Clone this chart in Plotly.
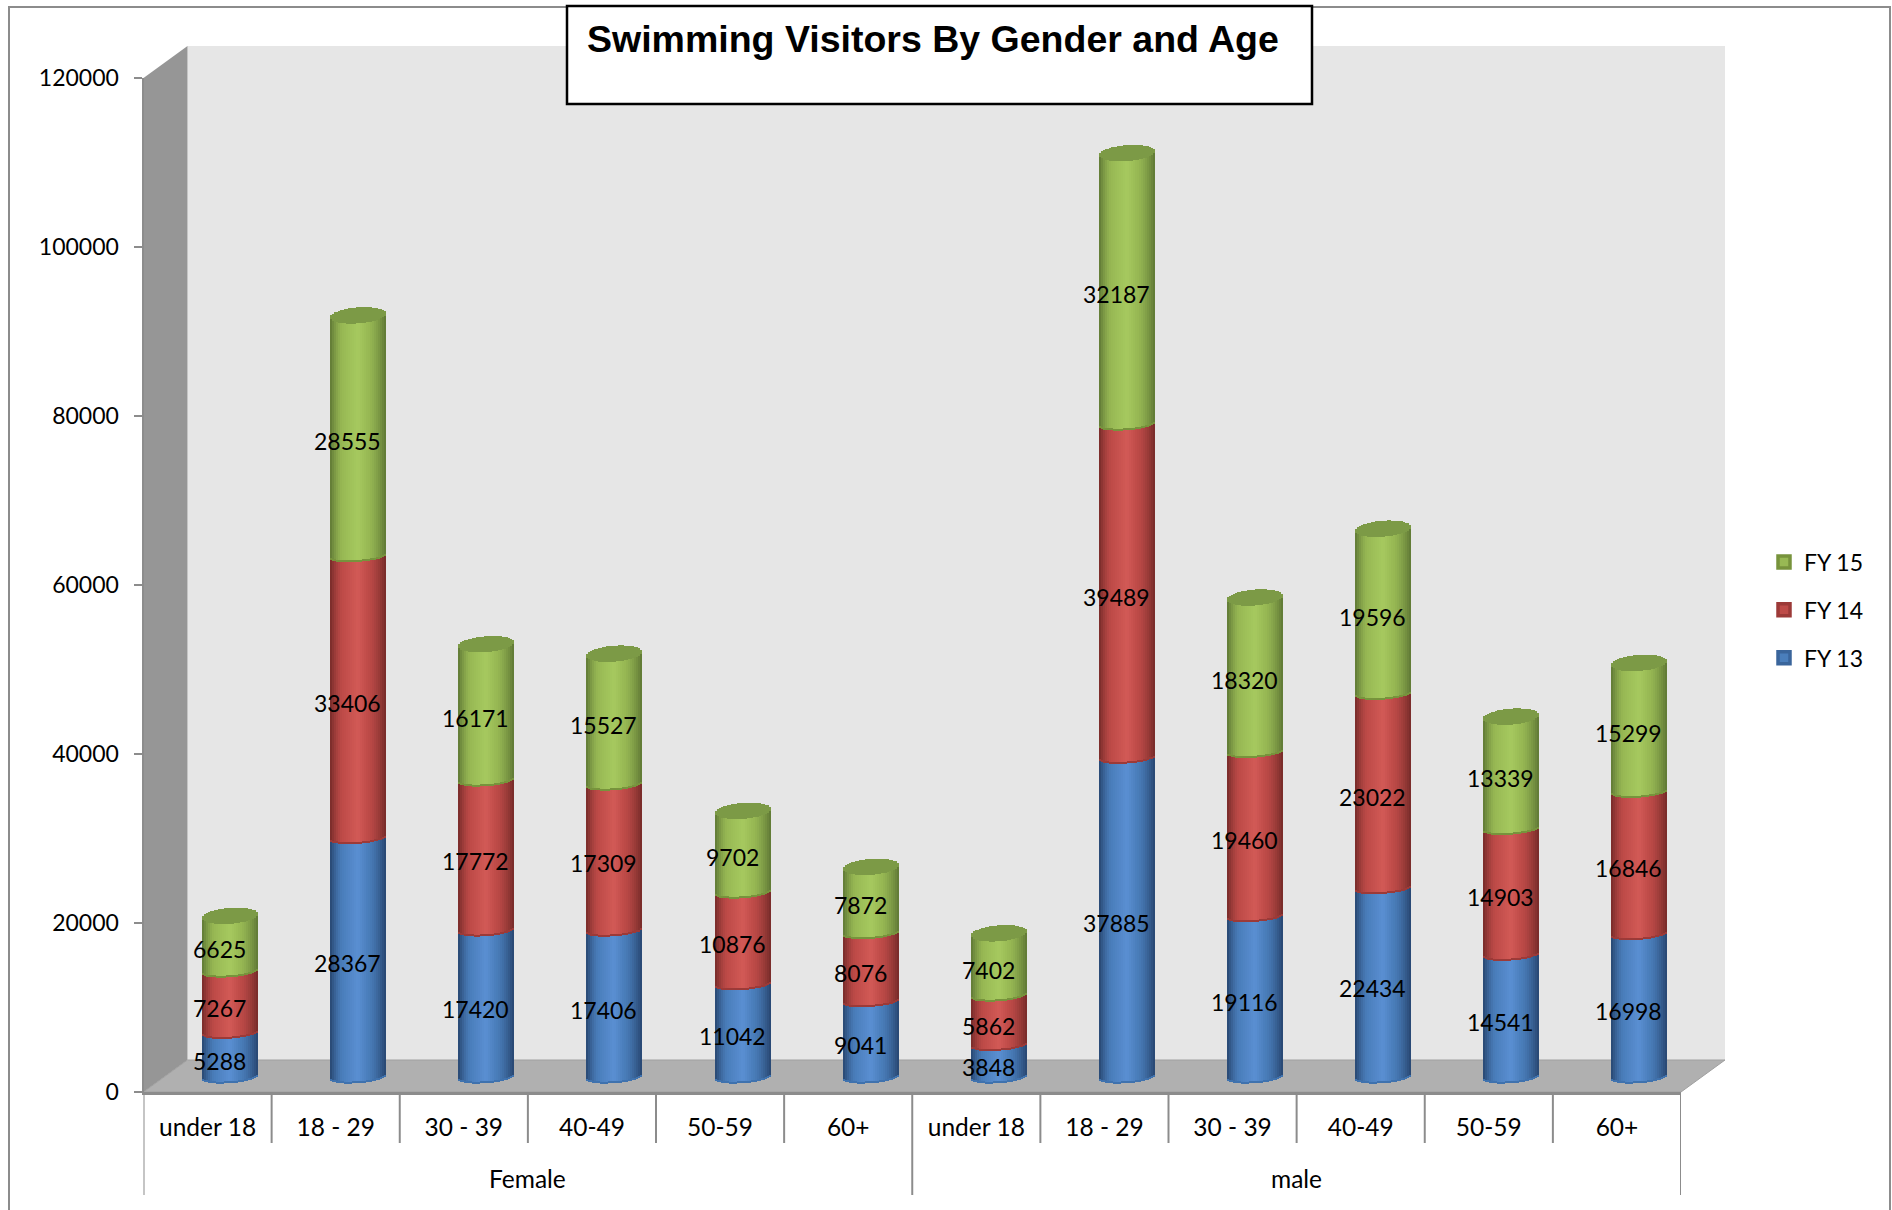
import math
import plotly.graph_objects as go

W, H = 1892, 1210

age_groups = ["under 18", "18 - 29", "30 - 39", "40-49", "50-59", "60+"]
genders = ["Female", "male"]
categories = age_groups + age_groups
fy13 = [5288, 28367, 17420, 17406, 11042, 9041, 3848, 37885, 19116, 22434, 14541, 16998]
fy14 = [7267, 33406, 17772, 17309, 10876, 8076, 5862, 39489, 19460, 23022, 14903, 16846]
fy15 = [6625, 28555, 16171, 15527, 9702, 7872, 7402, 32187, 18320, 19596, 13339, 15299]
y_ticks = [0, 20000, 40000, 60000, 80000, 100000, 120000]
series_names = ["FY 13", "FY 14", "FY 15"]

# colours: (centre, body, edge, rim, legend outline)
palette = {
    "FY 13": ("#5A8FD2", "#4A7EBB", "#274670", "#3F72AE", "#3A659B"),
    "FY 14": ("#D25A56", "#BE4B48", "#762B29", "#9C3A38", "#9C3A38"),
    "FY 15": ("#A6C95F", "#98B954", "#5F7835", "#77933C", "#77933C"),
}
cap_color = "#7C9A46"

FONT = "Lato"
FS = 23
FS_CAT = 24.5
GRAY = "#8C8C8C"

# pixel layout of the pseudo-3D box
L, R, Y0, Y120 = 143.5, 1681.0, 1092.0, 78.0   # front axes
DX, DY = 44, 32                                # depth of walls
BX, BY = 22, 14                                # cylinders stand mid-depth
BAR_SCALE = 1012.7                             # px for 120000
BAR_W, N = 56, 28                              # cylinder width, strips
ELL_B, CAP_B, TILT = 5.5, 8.0, 2.0             # ellipse half heights, tilt
PAD = 2000                                     # data room below zero for the curved base


def px(x):
    return x / W


def py(y):
    return 1 - y / H


def hex_rgb(c):
    return [int(c[i:i + 2], 16) for i in (1, 3, 5)]


def mix(a, b, t):
    ra, rb = hex_rgb(a), hex_rgb(b)
    return "rgb(%d,%d,%d)" % tuple(round(p + (q - p) * t) for p, q in zip(ra, rb))


def shade(name, u):
    centre, body, edge, _, _ = palette[name]
    if u < 0:
        if u > -0.55:
            return mix(centre, body, -u / 0.55)
        return mix(body, edge, ((-u - 0.55) / 0.45) ** 1.4)
    if u < 0.35:
        return mix(centre, body, u / 0.35)
    return mix(body, edge, ((u - 0.35) / 0.65) ** 1.4)


unit_x = (R - L) / 12
unit_y = 120000 / BAR_SCALE
strip_us = [-1 + (2 * k + 1) / N for k in range(N)]
strip_w = (BAR_W / N) / unit_x


def front(u, b=ELL_B):
    return (TILT * u - b * math.sqrt(max(0, 1 - u * u))) * unit_y


def back(u, b=CAP_B):
    return (TILT * u + b * math.sqrt(max(0, 1 - u * u))) * unit_y


fig = go.Figure()

# legend entries (on the front axes, which carry the ticks)
for name, vals in reversed(list(zip(series_names, [fy13, fy14, fy15]))):
    fig.add_trace(go.Bar(
        x=[None], y=[None], name=name, legendgroup=name, xaxis="x", yaxis="y",
        marker=dict(color=palette[name][1], line=dict(color=palette[name][4], width=3.5)),
        hoverinfo="skip",
    ))

annotations = []
cum = [0] * 12
for name, vals in zip(series_names, [fy13, fy14, fy15]):
    xs, bases, heights, colors = [], [], [], []
    rx, rb, rh = [], [], []
    for i, v in enumerate(vals):
        for u in strip_us:
            xx = i + u * (BAR_W / 2) / unit_x
            low = cum[i] + front(u)
            xs.append(xx)
            bases.append(low)
            heights.append(v)
            colors.append(shade(name, u))
            rx.append(xx)
            rb.append(low)
            rh.append(2 * unit_y)
        annotations.append(dict(
            text=str(v), x=i, y=cum[i] + v / 2, xref="x2", yref="y2",
            xshift=-10, yshift=-5, showarrow=False,
            font=dict(family=FONT, size=FS, color="#000000"),
        ))
    fig.add_trace(go.Bar(
        x=xs, y=heights, base=bases, width=strip_w, name=name, showlegend=False,
        marker=dict(color=colors, line=dict(width=0)), cliponaxis=False,
        xaxis="x2", yaxis="y2", hoverinfo="skip",
    ))
    fig.add_trace(go.Bar(
        x=rx, y=rh, base=rb, width=strip_w, showlegend=False,
        marker=dict(color=palette[name][3], line=dict(width=0)), cliponaxis=False,
        xaxis="x2", yaxis="y2", hoverinfo="skip",
    ))
    cum = [c + v for c, v in zip(cum, vals)]

# top caps of the cylinders
cx, cb, ch = [], [], []
for i, total in enumerate(cum):
    for u in strip_us:
        cx.append(i + u * (BAR_W / 2) / unit_x)
        cb.append(total + front(u, CAP_B))
        ch.append(back(u) - front(u, CAP_B))
fig.add_trace(go.Bar(
    x=cx, y=ch, base=cb, width=strip_w, showlegend=False,
    marker=dict(color=cap_color, line=dict(width=0)), cliponaxis=False,
    xaxis="x2", yaxis="y2", hoverinfo="skip",
))

for g, centre in zip(genders, [2.5, 8.5]):
    annotations.append(dict(
        text=g, x=centre, xref="x", y=py(1178), yref="paper", yanchor="middle", showarrow=False,
        font=dict(family=FONT, size=FS_CAT, color="#000000"),
    ))

shapes = [
    # back wall, side wall, floor
    dict(type="rect", xref="paper", yref="paper", layer="below", line=dict(width=0),
         x0=px(L + DX), x1=px(R + DX), y0=py(Y120 - DY), y1=py(Y0 - DY), fillcolor="#E6E6E6"),
    dict(type="path", xref="paper", yref="paper", layer="below", line=dict(width=0), fillcolor="#969696",
         path=f"M{px(L)},{py(Y120)} L{px(L + DX)},{py(Y120 - DY)} L{px(L + DX)},{py(Y0 - DY)} L{px(L)},{py(Y0)} Z"),
    dict(type="path", xref="paper", yref="paper", layer="below", line=dict(color="#A0A0A0", width=1), fillcolor="#B0B0B0",
         path=f"M{px(L)},{py(Y0)} L{px(L + DX)},{py(Y0 - DY)} L{px(R + DX)},{py(Y0 - DY)} L{px(R)},{py(Y0)} Z"),
    # outer frame
    dict(type="rect", xref="paper", yref="paper", layer="below", fillcolor="rgba(0,0,0,0)",
         line=dict(color=GRAY, width=2), x0=px(9), x1=px(1890), y0=py(7), y1=py(1230)),
    # title box
    dict(type="rect", xref="paper", yref="paper", layer="above", fillcolor="#FFFFFF",
         line=dict(color="#000000", width=2.5), x0=px(567), x1=px(1312), y0=py(6), y1=py(104)),
]
for k in range(13):
    is_group = k % 6 == 0
    shapes.append(dict(
        type="line", xref="x", yref="paper", x0=k - 0.5, x1=k - 0.5,
        y0=py(Y0), y1=py(1195 if is_group else 1143), layer="above",
        line=dict(color=GRAY, width=2),
    ))

fig.update_layout(
    width=W, height=H, autosize=False,
    margin=dict(l=0, r=0, t=0, b=0, pad=0, autoexpand=False),
    paper_bgcolor="#FFFFFF", plot_bgcolor="rgba(0,0,0,0)",
    barmode="overlay", bargap=0,
    font=dict(family=FONT, size=FS, color="#000000"),
    title=dict(text="<b>Swimming Visitors By Gender and Age</b>", x=px(587), xanchor="left",
               y=py(39), yanchor="middle",
               font=dict(family="Liberation Sans", size=37.5, color="#000000")),
    xaxis=dict(domain=[px(L), px(R)], range=[-0.5, 11.5], tickmode="array",
               tickvals=list(range(12)), ticktext=categories, ticks="", showgrid=False,
               zeroline=False, showline=True, linecolor=GRAY, linewidth=3,
               ticklabelstandoff=12, tickfont=dict(family=FONT, size=FS_CAT), anchor="y"),
    yaxis=dict(domain=[py(Y0), py(Y120)], range=[0, 120000], tickmode="array",
               tickvals=y_ticks, ticks="outside", ticklen=8, tickwidth=2, tickcolor=GRAY,
               showgrid=False, zeroline=False, showline=True, linecolor=GRAY, linewidth=2,
               ticklabelstandoff=10, tickformat="d", tickfont=dict(family=FONT, size=FS), anchor="x"),
    xaxis2=dict(domain=[px(L + BX), px(R + BX)], range=[-0.5, 11.5], visible=False, anchor="y2"),
    yaxis2=dict(domain=[py(Y0 - BY + PAD / unit_y), py(Y0 - BY - BAR_SCALE)], range=[-PAD, 120000],
                visible=False, anchor="x2"),
    legend=dict(x=px(1764), xanchor="left", y=py(610), yanchor="middle", traceorder="grouped",
                tracegroupgap=15, bgcolor="rgba(0,0,0,0)", font=dict(family=FONT, size=FS)),
    annotations=annotations,
    shapes=shapes,
    showlegend=True,
)

fig.write_html("out.html", config={"displayModeBar": False},
               post_script="document.body.style.margin='0';document.body.style.overflow='hidden';")
